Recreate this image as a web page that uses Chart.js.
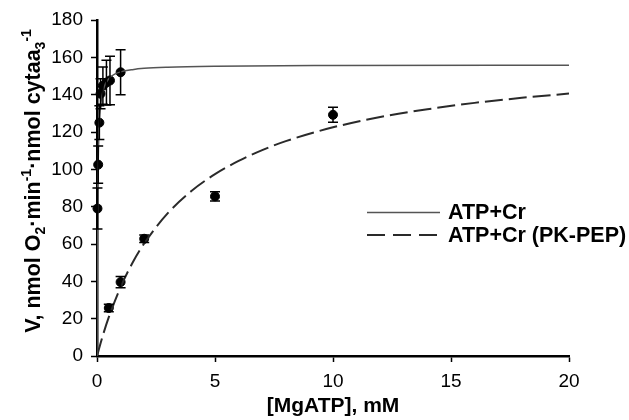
<!DOCTYPE html>
<html>
<head>
<meta charset="utf-8">
<script src="https://cdn.jsdelivr.net/npm/chart.js@4.4.1/dist/chart.umd.min.js"></script>
<style>
  html, body { margin: 0; padding: 0; background: #fff; }
  canvas { display: block; }
</style>
</head>
<body>
<canvas id="chart" width="629" height="420"></canvas>
<script>
// ==============================
// data
// ==============================
const seriesLabels = ["ATP+Cr", "ATP+Cr (PK-PEP)"];

// measured points, ATP+Cr
const concCr = [0.02, 0.05, 0.1, 0.15, 0.25, 0.4, 0.55, 1.0];
const rateCr = [79, 102.5, 125, 140.5, 144.8, 146.5, 147.6, 152];
const errCr = [11, 10, 9, 8, 10, 12, 13, 12];

// measured points, ATP+Cr (PK-PEP)
const concPk = [0.5, 1, 2, 5, 10];
const ratePk = [25.7, 39.6, 62.8, 85.5, 129.2];
const errPk = [2, 3, 2, 2.5, 4];

// fitted curves
const fitCrX = [0, 0.005, 0.01, 0.02, 0.04, 0.06, 0.1, 0.15, 0.2, 0.3, 0.5, 0.75, 1, 1.5, 2, 3, 5, 10, 20];
const fitCrY = [0, 26, 44.6, 69.3, 96, 110.1, 124.8, 133.7, 138.7, 144, 148.6, 151, 152.2, 153.4, 154.1, 154.7, 155.2, 155.6, 155.8];
const fitPkX = [0, 0.25, 0.5, 1, 1.5, 2, 3, 4, 5, 6, 7, 8, 10, 12, 14, 16, 18, 20];
const fitPkY = [0, 11.1, 20.8, 36.9, 49.8, 60.3, 76.5, 88.4, 97.4, 104.5, 110.3, 115.1, 122.5, 128, 132.2, 135.6, 138.3, 140.6];

// axes
const xTicks = [0, 5, 10, 15, 20];
const yTicks = [0, 20, 40, 60, 80, 100, 120, 140, 160, 180];
const xTitle = "[MgATP], mM";
const yTitleParts = [
  ["V, nmol O", "base"], ["2", "sub"], ["\u00b7min", "base"], ["-1", "sup"],
  ["\u00b7nmol cytaa", "base"], ["3", "sub"], ["-1", "sup"],
];

const FONT = '"Liberation Sans", Arial, Helvetica, sans-serif';
const toXY = (xs, ys) => xs.map((v, i) => ({ x: v, y: ys[i] }));

// ==============================
// error bars
// ==============================
const errorBarPlugin = {
  id: "errorBars",
  afterDatasetsDraw(chart) {
    const { ctx, scales: { x, y } } = chart;
    ctx.save();
    ctx.strokeStyle = "#000";
    ctx.lineWidth = 1.5;
    chart.data.datasets.forEach((ds) => {
      if (!ds.errors) return;
      ds.data.forEach((p, i) => {
        const px = x.getPixelForValue(p.x);
        const top = y.getPixelForValue(p.y + ds.errors[i]);
        const bot = y.getPixelForValue(p.y - ds.errors[i]);
        ctx.beginPath();
        ctx.moveTo(px, top);
        ctx.lineTo(px, bot);
        ctx.moveTo(px - 5, top);
        ctx.lineTo(px + 5, top);
        ctx.moveTo(px - 5, bot);
        ctx.lineTo(px + 5, bot);
        ctx.stroke();
      });
    });
    ctx.restore();
  },
};

// ==============================
// legend (inside plot, right side)
// ==============================
const legendPlugin = {
  id: "inlineLegend",
  afterDraw(chart) {
    const ctx = chart.ctx;
    const lines = chart.data.datasets.filter((ds) => ds.inLegend);
    ctx.save();
    lines.forEach((ds, i) => {
      const yy = 212.5 + i * 22.5;
      ctx.beginPath();
      ctx.setLineDash(ds.borderDash ? [18, 8] : []);
      ctx.moveTo(367, yy);
      ctx.lineTo(440, yy);
      ctx.lineWidth = ds.borderWidth;
      ctx.strokeStyle = ds.borderColor;
      ctx.stroke();
      ctx.setLineDash([]);

      ctx.fillStyle = "#000";
      ctx.font = `bold 21.5px ${FONT}`;
      ctx.textAlign = "left";
      ctx.textBaseline = "middle";
      ctx.fillText(ds.label, 448, yy + 1);
    });
    ctx.restore();
  },
};

// ==============================
// y title with sub/superscripts
// ==============================
const yTitlePlugin = {
  id: "yTitle",
  afterDraw(chart) {
    const ctx = chart.ctx;
    const size = 21.5;
    const fontFor = (k) => `bold ${k === "base" ? size : Math.round(size * 0.66)}px ${FONT}`;
    ctx.save();
    let total = 0;
    for (const [t, k] of yTitleParts) {
      ctx.font = fontFor(k);
      total += ctx.measureText(t).width;
    }
    ctx.translate(40, 181);
    ctx.rotate(-Math.PI / 2);
    ctx.fillStyle = "#000";
    ctx.textAlign = "left";
    ctx.textBaseline = "alphabetic";
    let pos = -total / 2;
    for (const [t, k] of yTitleParts) {
      ctx.font = fontFor(k);
      const dy = k === "sub" ? size * 0.22 : k === "sup" ? -size * 0.42 : 0;
      ctx.fillText(t, pos, dy);
      pos += ctx.measureText(t).width;
    }
    ctx.restore();
  },
};

// ==============================
// create
// ==============================
const axisCommon = {
  type: "linear",
  grid: {
    display: true,
    drawOnChartArea: false,
    drawTicks: true,
    tickLength: 6,
    tickWidth: 1.5,
    tickColor: "#000",
  },
  border: { display: true, color: "#000", width: 2.5 },
  ticks: { color: "#000", font: { family: FONT, size: 19 }, padding: 8 },
};

new Chart(document.getElementById("chart"), {
  type: "scatter",
  data: {
    datasets: [
      {
        label: seriesLabels[0],
        inLegend: true,
        type: "line",
        data: toXY(fitCrX, fitCrY),
        borderColor: "#555",
        borderWidth: 1.5,
        pointRadius: 0,
        cubicInterpolationMode: "monotone",
        fill: false,
      },
      {
        label: seriesLabels[1],
        inLegend: true,
        type: "line",
        data: toXY(fitPkX, fitPkY),
        borderColor: "#2a2a2a",
        borderWidth: 2,
        borderDash: [18, 6],
        pointRadius: 0,
        cubicInterpolationMode: "monotone",
        fill: false,
      },
      {
        label: seriesLabels[0] + " data",
        data: toXY(concCr, rateCr),
        errors: errCr,
        pointRadius: 4.5,
        pointBackgroundColor: "#000",
        pointBorderColor: "#000",
        showLine: false,
        clip: false,
      },
      {
        label: seriesLabels[1] + " data",
        data: toXY(concPk, ratePk),
        errors: errPk,
        pointRadius: 4.5,
        pointBackgroundColor: "#000",
        pointBorderColor: "#000",
        showLine: false,
        clip: false,
      },
    ],
  },
  options: {
    responsive: false,
    animation: false,
    devicePixelRatio: 1,
    layout: { padding: { left: 0, right: 60, top: 20, bottom: 0 } },
    plugins: {
      legend: { display: false },
      tooltip: { enabled: false },
    },
    scales: {
      x: {
        ...axisCommon,
        min: 0,
        max: 20,
        afterBuildTicks(scale) {
          scale.ticks = xTicks.map((v) => ({ value: v }));
        },
        afterFit(scale) {
          scale.height = 64;
        },
        title: {
          display: true,
          text: xTitle,
          color: "#000",
          font: { family: FONT, size: 21, weight: "bold" },
          padding: { top: 0, bottom: 1 },
        },
      },
      y: {
        ...axisCommon,
        min: 0,
        max: 180,
        afterBuildTicks(scale) {
          scale.ticks = yTicks.map((v) => ({ value: v }));
        },
        afterFit(scale) {
          scale.width = 97;
        },
      },
    },
  },
  plugins: [errorBarPlugin, legendPlugin, yTitlePlugin],
});
</script>
</body>
</html>
